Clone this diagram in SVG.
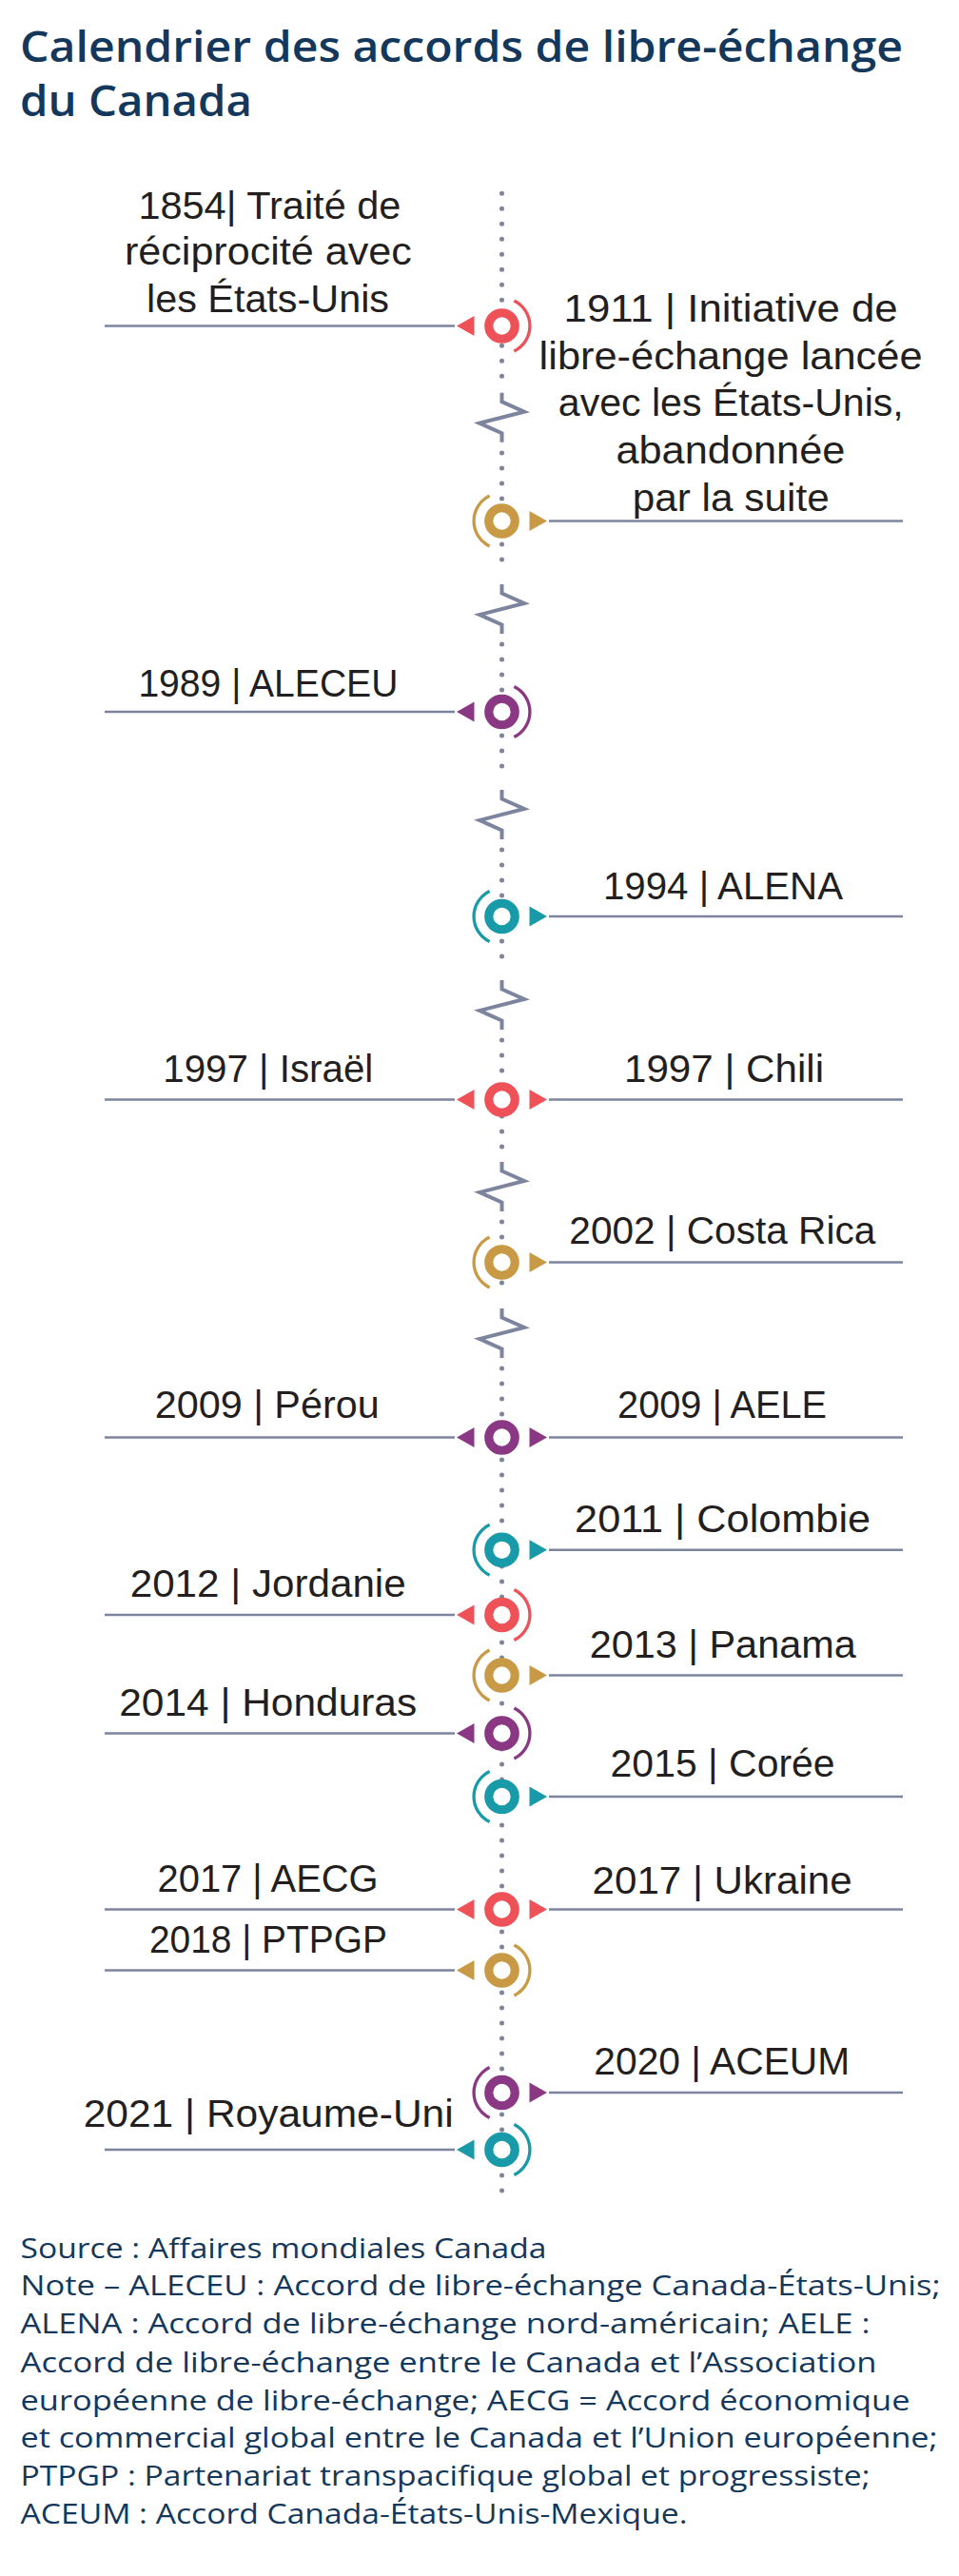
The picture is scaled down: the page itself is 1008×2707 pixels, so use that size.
<svg xmlns="http://www.w3.org/2000/svg" xmlns:xlink="http://www.w3.org/1999/xlink" width="1008" height="2707" viewBox="0 0 1008 2707">
<style>
.title{font-family:"Open Sans","Liberation Sans",sans-serif;font-weight:600;font-size:46px;fill:#14375c}
.foot{font-family:"Open Sans","Liberation Sans",sans-serif;font-size:30px;fill:#14375c}
.lbl{font-family:"Liberation Sans","Open Sans",sans-serif;font-size:40px;fill:#231f20}
.hl{stroke:#7d849e;stroke-width:2.4;fill:none}
.dots{stroke:#7d849e;stroke-width:5;stroke-linecap:round;stroke-dasharray:0 16;fill:none}
.zz{stroke:#7d849e;stroke-width:4;fill:none;stroke-linejoin:miter}
.red{color:#ef5159}.gold{color:#c99a45}.purple{color:#8a3883}.teal{color:#189aa8}
</style>
<defs>
<circle id="ring" r="13.75" fill="#fff" stroke="currentColor" stroke-width="9.2"/>
<path id="arcR" d="M12.9,-26.5 A29.5,29.5 0 0 1 12.9,26.5" fill="none" stroke="currentColor" stroke-width="3.3"/>
<path id="arcL" d="M-12.9,-26.5 A29.5,29.5 0 0 0 -12.9,26.5" fill="none" stroke="currentColor" stroke-width="3.3"/>
<polygon id="triL" points="-47.5,0 -29,-10.5 -29,10.5" fill="currentColor"/>
<polygon id="triR" points="47.5,0 29,-10.5 29,10.5" fill="currentColor"/>
<path id="zig" d="M0,-26 V-16.5 L23.5,-6 L-23.5,6 L0,16.5 V26"/>
</defs>
<rect width="1008" height="2707" fill="#fff"/>
<g id="title">
<text class="title" x="21" y="65" textLength="928" lengthAdjust="spacingAndGlyphs">Calendrier des accords de libre-échange</text>
<text class="title" x="21" y="121.7" textLength="244" lengthAdjust="spacingAndGlyphs">du Canada</text>
</g>
<g id="connectors">
<path class="dots" d="M527.5,203.3 V401.7 M527.5,476 V603 M527.5,677 V819 M527.5,893 V1019 M527.5,1093 V1210 M527.5,1284 V1364 M527.5,1438 V2313"/>
<use href="#zig" class="zz" transform="translate(527.5,438.7)"/>
<use href="#zig" class="zz" transform="translate(527.5,640)"/>
<use href="#zig" class="zz" transform="translate(527.5,856)"/>
<use href="#zig" class="zz" transform="translate(527.5,1056)"/>
<use href="#zig" class="zz" transform="translate(527.5,1247)"/>
<use href="#zig" class="zz" transform="translate(527.5,1401)"/>
</g>
<g id="n1854" class="red">
<path class="hl" d="M110,342.5 H478"/>
<use href="#triL" transform="translate(527.5,342.5)"/><use href="#ring" transform="translate(527.5,342.5)"/><use href="#arcR" transform="translate(527.5,342.5)"/>
<text class="lbl" x="145.4" y="230" textLength="276" lengthAdjust="spacingAndGlyphs">1854| Traité de</text>
<text class="lbl" x="130.9" y="278.3" textLength="302" lengthAdjust="spacingAndGlyphs">réciprocité avec</text>
<text class="lbl" x="154" y="328.3" textLength="255" lengthAdjust="spacingAndGlyphs">les États-Unis</text>
</g>
<g id="n1911" class="gold">
<path class="hl" d="M577,547.5 H949"/>
<use href="#triR" transform="translate(527.5,547.5)"/><use href="#ring" transform="translate(527.5,547.5)"/><use href="#arcL" transform="translate(527.5,547.5)"/>
<text class="lbl" x="592.6" y="338.3" textLength="351" lengthAdjust="spacingAndGlyphs">1911 | Initiative de</text>
<text class="lbl" x="566.6" y="388.3" textLength="403" lengthAdjust="spacingAndGlyphs">libre-échange lancée</text>
<text class="lbl" x="586.8" y="436.7" textLength="363" lengthAdjust="spacingAndGlyphs">avec les États-Unis,</text>
<text class="lbl" x="647.4" y="486.7" textLength="241" lengthAdjust="spacingAndGlyphs">abandonnée</text>
<text class="lbl" x="664.7" y="536.7" textLength="207" lengthAdjust="spacingAndGlyphs">par la suite</text>
</g>
<g id="n1989" class="purple">
<path class="hl" d="M110,748 H478"/>
<use href="#triL" transform="translate(527.5,748)"/><use href="#ring" transform="translate(527.5,748)"/><use href="#arcR" transform="translate(527.5,748)"/>
<text class="lbl" x="145.4" y="731.7" textLength="273" lengthAdjust="spacingAndGlyphs">1989 | ALECEU</text>
</g>
<g id="n1994" class="teal">
<path class="hl" d="M577,963 H949"/>
<use href="#triR" transform="translate(527.5,963)"/><use href="#ring" transform="translate(527.5,963)"/><use href="#arcL" transform="translate(527.5,963)"/>
<text class="lbl" x="634" y="945" textLength="252" lengthAdjust="spacingAndGlyphs">1994 | ALENA</text>
</g>
<g id="n1997" class="red">
<path class="hl" d="M110,1155.5 H478 M577,1155.5 H949"/>
<use href="#triL" transform="translate(527.5,1155.5)"/><use href="#triR" transform="translate(527.5,1155.5)"/><use href="#ring" transform="translate(527.5,1155.5)"/>
<text class="lbl" x="171.3" y="1136.7" textLength="221" lengthAdjust="spacingAndGlyphs">1997 | Israël</text>
<text class="lbl" x="656" y="1136.7" textLength="210" lengthAdjust="spacingAndGlyphs">1997 | Chili</text>
</g>
<g id="n2002" class="gold">
<path class="hl" d="M577,1326.5 H949"/>
<use href="#triR" transform="translate(527.5,1326.5)"/><use href="#ring" transform="translate(527.5,1326.5)"/><use href="#arcL" transform="translate(527.5,1326.5)"/>
<text class="lbl" x="598.3" y="1306.7" textLength="322" lengthAdjust="spacingAndGlyphs">2002 | Costa Rica</text>
</g>
<g id="n2009" class="purple">
<path class="hl" d="M110,1510.5 H478 M577,1510.5 H949"/>
<use href="#triL" transform="translate(527.5,1510.5)"/><use href="#triR" transform="translate(527.5,1510.5)"/><use href="#ring" transform="translate(527.5,1510.5)"/>
<text class="lbl" x="162.7" y="1490" textLength="236" lengthAdjust="spacingAndGlyphs">2009 | Pérou</text>
<text class="lbl" x="649.1" y="1490" textLength="220" lengthAdjust="spacingAndGlyphs">2009 | AELE</text>
</g>
<g id="n2011" class="teal">
<path class="hl" d="M577,1628.8 H949"/>
<use href="#triR" transform="translate(527.5,1628.8)"/><use href="#ring" transform="translate(527.5,1628.8)"/><use href="#arcL" transform="translate(527.5,1628.8)"/>
<text class="lbl" x="604.1" y="1610" textLength="311" lengthAdjust="spacingAndGlyphs">2011 | Colombie</text>
</g>
<g id="n2012" class="red">
<path class="hl" d="M110,1697 H478"/>
<use href="#triL" transform="translate(527.5,1697)"/><use href="#ring" transform="translate(527.5,1697)"/><use href="#arcR" transform="translate(527.5,1697)"/>
<text class="lbl" x="136.7" y="1678.3" textLength="290" lengthAdjust="spacingAndGlyphs">2012 | Jordanie</text>
</g>
<g id="n2013" class="gold">
<path class="hl" d="M577,1760.5 H949"/>
<use href="#triR" transform="translate(527.5,1760.5)"/><use href="#ring" transform="translate(527.5,1760.5)"/><use href="#arcL" transform="translate(527.5,1760.5)"/>
<text class="lbl" x="619.7" y="1741.7" textLength="280" lengthAdjust="spacingAndGlyphs">2013 | Panama</text>
</g>
<g id="n2014" class="purple">
<path class="hl" d="M110,1821.5 H478"/>
<use href="#triL" transform="translate(527.5,1821.5)"/><use href="#ring" transform="translate(527.5,1821.5)"/><use href="#arcR" transform="translate(527.5,1821.5)"/>
<text class="lbl" x="125.2" y="1803.3" textLength="313" lengthAdjust="spacingAndGlyphs">2014 | Honduras</text>
</g>
<g id="n2015" class="teal">
<path class="hl" d="M577,1888 H949"/>
<use href="#triR" transform="translate(527.5,1888)"/><use href="#ring" transform="translate(527.5,1888)"/><use href="#arcL" transform="translate(527.5,1888)"/>
<text class="lbl" x="641.6" y="1866.7" textLength="236" lengthAdjust="spacingAndGlyphs">2015 | Corée</text>
</g>
<g id="n2017" class="red">
<path class="hl" d="M110,2006.5 H478 M577,2006.5 H949"/>
<use href="#triL" transform="translate(527.5,2006.5)"/><use href="#triR" transform="translate(527.5,2006.5)"/><use href="#ring" transform="translate(527.5,2006.5)"/>
<text class="lbl" x="165.6" y="1988.3" textLength="232" lengthAdjust="spacingAndGlyphs">2017 | AECG</text>
<text class="lbl" x="622.6" y="1990" textLength="273" lengthAdjust="spacingAndGlyphs">2017 | Ukraine</text>
</g>
<g id="n2018" class="gold">
<path class="hl" d="M110,2070.5 H478"/>
<use href="#triL" transform="translate(527.5,2070.5)"/><use href="#ring" transform="translate(527.5,2070.5)"/><use href="#arcR" transform="translate(527.5,2070.5)"/>
<text class="lbl" x="156.9" y="2051.7" textLength="250" lengthAdjust="spacingAndGlyphs">2018 | PTPGP</text>
</g>
<g id="n2020" class="purple">
<path class="hl" d="M577,2199 H949"/>
<use href="#triR" transform="translate(527.5,2199)"/><use href="#ring" transform="translate(527.5,2199)"/><use href="#arcL" transform="translate(527.5,2199)"/>
<text class="lbl" x="624.3" y="2180" textLength="269" lengthAdjust="spacingAndGlyphs">2020 | ACEUM</text>
</g>
<g id="n2021" class="teal">
<path class="hl" d="M110,2259 H478"/>
<use href="#triL" transform="translate(527.5,2259)"/><use href="#ring" transform="translate(527.5,2259)"/><use href="#arcR" transform="translate(527.5,2259)"/>
<text class="lbl" x="87.7" y="2235" textLength="389" lengthAdjust="spacingAndGlyphs">2021 | Royaume-Uni</text>
</g>
<g id="footnote">
<text class="foot" x="21.5" y="2372.5" textLength="553" lengthAdjust="spacingAndGlyphs">Source : Affaires mondiales Canada</text>
<text class="foot" x="21.5" y="2412" textLength="967" lengthAdjust="spacingAndGlyphs">Note – ALECEU : Accord de libre-échange Canada-États-Unis;</text>
<text class="foot" x="21.5" y="2452" textLength="893" lengthAdjust="spacingAndGlyphs">ALENA : Accord de libre-échange nord-américain; AELE :</text>
<text class="foot" x="21.5" y="2492.5" textLength="900" lengthAdjust="spacingAndGlyphs">Accord de libre-échange entre le Canada et l’Association</text>
<text class="foot" x="21.5" y="2532.5" textLength="935" lengthAdjust="spacingAndGlyphs">européenne de libre-échange; AECG = Accord économique</text>
<text class="foot" x="21.5" y="2572" textLength="964" lengthAdjust="spacingAndGlyphs">et commercial global entre le Canada et l’Union européenne;</text>
<text class="foot" x="21.5" y="2612" textLength="893" lengthAdjust="spacingAndGlyphs">PTPGP : Partenariat transpacifique global et progressiste;</text>
<text class="foot" x="21.5" y="2652" textLength="701" lengthAdjust="spacingAndGlyphs">ACEUM : Accord Canada-États-Unis-Mexique.</text>
</g>
</svg>
